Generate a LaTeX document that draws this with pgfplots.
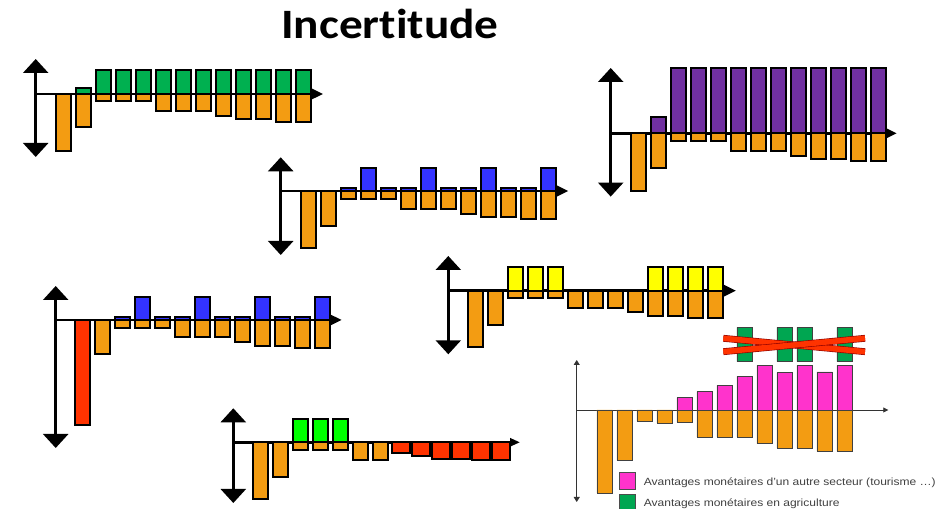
\documentclass[border=0pt]{standalone}
\usepackage{graphicx}
\usepackage{pgfplots}
\pgfplotsset{compat=1.18}
\usepackage{fontspec}
\setmainfont{Liberation Sans}
\newfontfamily\titlefont[Ligatures={NoCommon,NoRequired,NoContextual}]{Carlito}
\usetikzlibrary{arrows.meta}
\definecolor{orng}{HTML}{F39C12}
\definecolor{grn}{HTML}{00B050}
\definecolor{purp}{HTML}{7030A0}
\definecolor{blu}{HTML}{3333FF}
\definecolor{redd}{HTML}{FF3300}
\definecolor{yell}{HTML}{FFFF00}
\definecolor{lgrn}{HTML}{00FF00}
\definecolor{pnk}{HTML}{FF33CC}
\definecolor{grnb}{HTML}{00A651}
\definecolor{txtg}{HTML}{404040}
\pgfplotsset{
  mini/.style={x=1bp, y=1bp, anchor=origin, axis lines=middle, xmin=0,
    enlargelimits=false, xtick=\empty, ytick=\empty, clip=false, ybar, bar width=15bp,
    axis line style={line width=2.5bp, black},
    x axis line style={-{Triangle[width=11bp,length=12bp]}},
    y axis line style={{Triangle[width=25bp,length=14bp]}-{Triangle[width=25bp,length=14bp]}}},
  B/.style={fill=#1, draw=black, line width=2bp, bar shift=0pt},
  T/.style={fill=#1, draw=black!75, line width=0.8bp, bar shift=0pt},
}
\begin{document}
\begin{tikzpicture}[x=1bp,y=1bp]
\useasboundingbox (0,0) rectangle (950,509);
\node[anchor=base, inner sep=0pt] at (390,470.7) {\scalebox{1.13}[1]{\titlefont\bfseries\fontsize{42}{42}\selectfont Incertitude}};

% Chart 1 (green)
\begin{axis}[mini, at={(35.7bp,415bp)}, xmax=287.3, ymin=-63, ymax=35]
\addplot[B=orng] coordinates {(28,-56.7)(48,-33)(68,-7.3)(88,-7.3)(108,-7.3)(128,-17.3)(148,-17.3)(168,-17.3)(188,-22.3)(208,-25)(228,-25)(248,-27.7)(268,-27.7)};
\addplot[B=grn] coordinates {(48,6.3)(68,23.7)(88,23.7)(108,23.7)(128,23.7)(148,23.7)(168,23.7)(188,23.7)(208,23.7)(228,23.7)(248,23.7)(268,23.7)};
\end{axis}

% Chart 2 (purple)
\begin{axis}[mini, at={(610.7bp,375.7bp)}, xmax=286, ymin=-63.3, ymax=65.3]
\addplot[B=orng] coordinates {(27.6,-57.3)(47.6,-34.7)(67.6,-8)(87.6,-8)(107.6,-8)(127.6,-18)(147.6,-18)(167.6,-18)(187.6,-23)(207.6,-25.7)(227.6,-25.7)(247.6,-28)(267.6,-28)};
\addplot[B=purp] coordinates {(47.6,16.7)(67.6,65)(87.6,65)(107.6,65)(127.6,65)(147.6,65)(167.6,65)(187.6,65)(207.6,65)(227.6,65)(247.6,65)(267.6,65)};
\end{axis}

% Chart 3 (blue)
\begin{axis}[mini, at={(280.7bp,318bp)}, xmax=287.6, ymin=-64, ymax=33.7]
\addplot[B=orng] coordinates {(27.6,-57)(47.6,-34.7)(67.6,-8)(87.6,-8)(107.6,-8)(127.6,-18)(147.6,-18)(167.6,-18)(187.6,-23)(207.6,-25.7)(227.6,-25.7)(247.6,-28)(267.6,-28)};
\addplot[B=blu] coordinates {(67.6,3.3)(87.6,22.7)(107.6,3.3)(127.6,3.3)(147.6,22.7)(167.6,3.3)(187.6,3.3)(207.6,22.7)(227.6,3.3)(247.6,3.3)(267.6,22.7)};
\end{axis}

% Chart 4 (red + blue)
\begin{axis}[mini, at={(55.7bp,189bp)}, xmax=286, ymin=-128, ymax=34]
\addplot[B=redd] coordinates {(27,-104.7)};
\addplot[B=orng] coordinates {(47,-34)(67,-8)(87,-8)(107,-8)(127,-17.3)(147,-17.3)(167,-17.3)(187,-21.7)(207,-25.7)(227,-25.7)(247,-28)(267,-28)};
\addplot[B=blu] coordinates {(67,3.3)(87,23.3)(107,3.3)(127,3.3)(147,23.3)(167,3.3)(187,3.3)(207,23.3)(227,3.3)(247,3.3)(267,23.3)};
\end{axis}

% Chart 5 (yellow)
\begin{axis}[mini, at={(448.3bp,218.3bp)}, xmax=287.7, ymin=-63.6, ymax=34.7]
\addplot[B=orng] coordinates {(27.4,-56.7)(47.4,-34)(67.4,-7.7)(87.4,-7.7)(107.4,-7.7)(127.4,-17.3)(147.4,-17.3)(167.4,-17.3)(187.4,-21.7)(207.4,-25)(227.4,-25)(247.4,-27.7)(267.4,-27.7)};
\addplot[B=yell] coordinates {(67.4,23.7)(87.4,23.7)(107.4,23.7)(207.4,23.7)(227.4,23.7)(247.4,23.7)(267.4,23.7)};
\end{axis}

% Chart 6 (light green + red)
\begin{axis}[mini, at={(233.3bp,66.7bp)}, xmax=286.7, ymin=-60.7, ymax=34,
  x axis line style={-{Triangle[width=8bp,length=10bp]}}]
\addplot[B=orng] coordinates {(27.4,-56.7)(47.4,-34.3)(67.4,-7.7)(87.4,-7.7)(107.4,-7.7)(127.4,-17.7)(147.4,-17.7)};
\addplot[B=lgrn] coordinates {(67.4,23)(87.4,23)(107.4,23)};
\addplot[B=redd, bar width=18bp] coordinates {(167.4,-10.7)(187.4,-14)(207.4,-16.7)(227.4,-16.7)(247.4,-17.7)(267.4,-17.7)};
\end{axis}

% Chart 7 (pink, thin)
\begin{axis}[mini, at={(576.7bp,99bp)}, xmax=311.6, ymin=-92, ymax=50, bar width=15.5bp,
  axis line style={line width=0.8bp, black!80},
  x axis line style={-{Triangle[width=5bp,length=5bp]}},
  y axis line style={{Triangle[width=6bp,length=5bp]}-{Triangle[width=6bp,length=5bp]}},
  legend style={at={(axis description cs:0.1335,0.2134)}, anchor=north west, draw=none, fill=none,
    inner sep=0pt, row sep=4.5bp, font=\color{txtg}\fontsize{10.5}{12}\selectfont,
    nodes={inner sep=0pt, anchor=base west}, column sep=8bp},
  legend cell align=left,
  legend image code/.code={\draw[#1] (0bp,-3.8bp) rectangle (16.7bp,12.9bp);}]
\addplot[T=orng, forget plot] coordinates {(28,-83)(48,-50.3)(68,-11.3)(88,-13)(108,-12.3)(128,-27)(148,-27)(168,-27)(188,-33.7)(208,-38)(228,-38)(248,-41.3)(268,-41.3)};
\addplot[T=pnk, forget plot] coordinates {(108,12.3)(128,18.3)(148,24.7)(168,33.7)(188,44.7)(208,37.3)(228,44.7)(248,38)(268,44.7)};
\addlegendimage{fill=pnk, draw=black!70, line width=0.6bp}
\addlegendentry{\scalebox{1.15}[1]{Avantages monétaires d'un autre secteur (tourisme …)}}
\addlegendimage{fill=grnb, draw=black!70, line width=0.6bp}
\addlegendentry{\scalebox{1.15}[1]{Avantages monétaires en agriculture}}
\end{axis}

% Chart 7 top: crossed-out agricultural benefits
\begin{axis}[x=1bp, y=1bp, anchor=origin, at={(576.7bp,147.3bp)}, hide axis, clip=false,
  xmin=0, xmax=311.6, ymin=0, ymax=40, enlargelimits=false, ybar, bar width=15.5bp]
\addplot[T=grnb] coordinates {(168,34.4)(208,34.4)(228,34.4)(268,34.4)};
\addplot[sharp plot, no marks, draw=red!55!black, double=redd, double distance=5.6bp, line width=0.6bp] coordinates {(146.6,23.4)(288.3,10)};
\addplot[sharp plot, no marks, draw=red!55!black, double=redd, double distance=5.6bp, line width=0.6bp] coordinates {(146.6,10)(288.3,23.4)};
\end{axis}
\end{tikzpicture}
\end{document}
